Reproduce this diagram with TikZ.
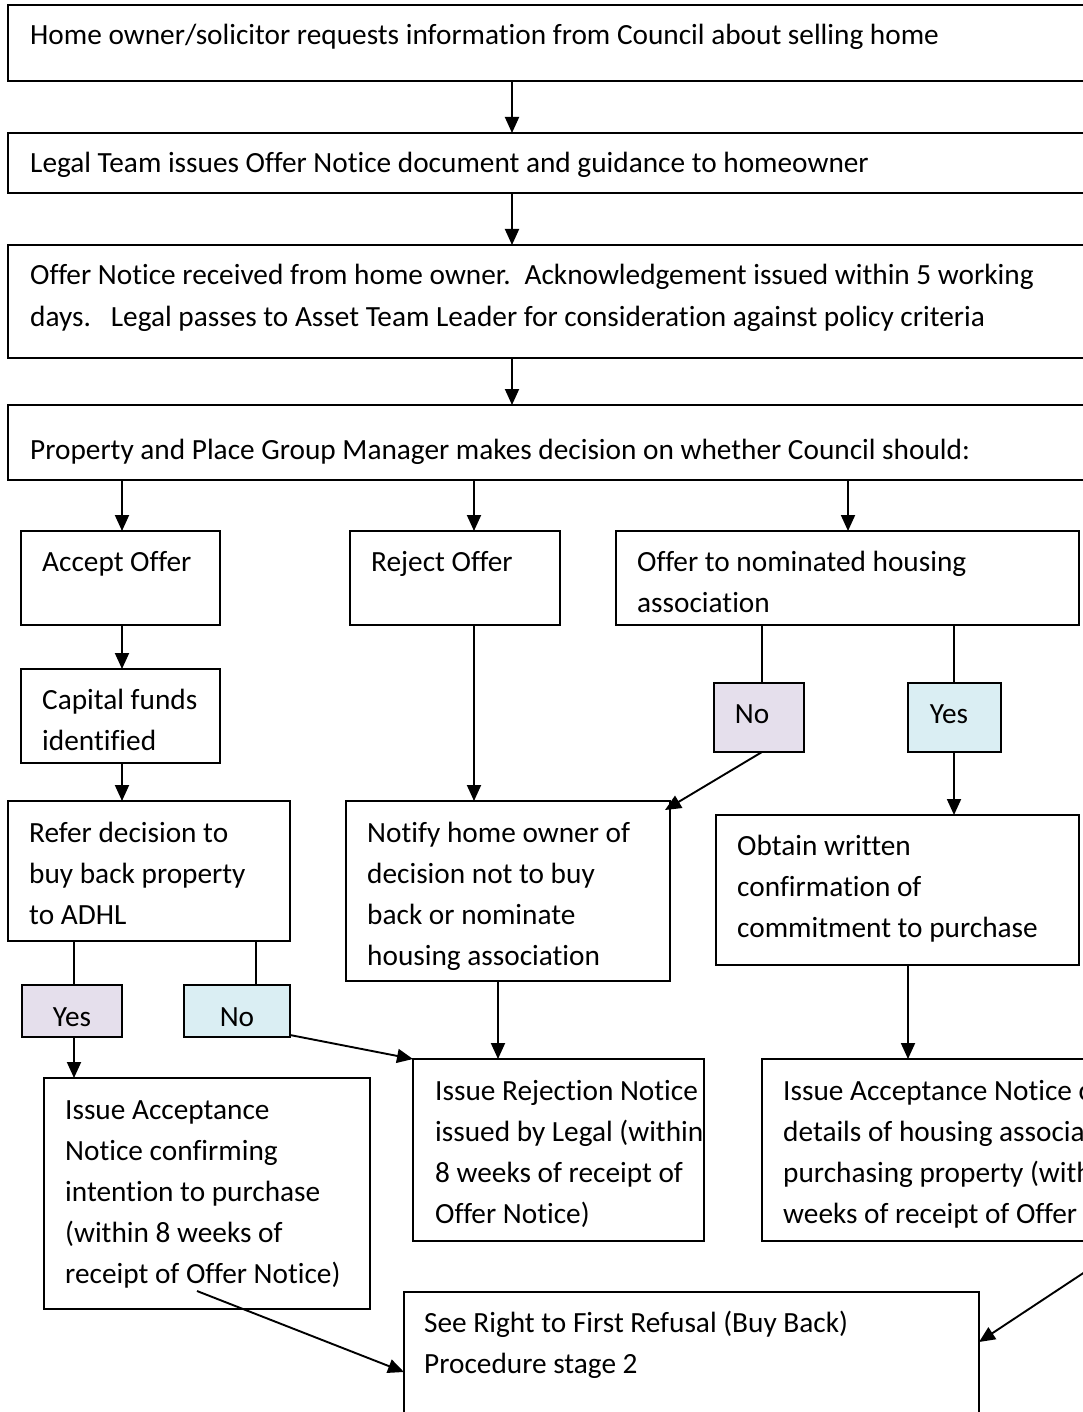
\documentclass[tikz,border=0pt]{standalone}
\usepackage{fontspec}
\setmainfont{Carlito}[Ligatures=CommonOff]
\usetikzlibrary{arrows.meta,calc}
\newcommand\bx[6][]{%
  \node[boxst,#1,minimum width={(#5-#3)*1pt},minimum height={(#6-#4)*1pt}] (#2) at ({(#3+#5)/2},{(#4+#6)/2}) {};}
\newcommand\Ln[1]{\hbox{#1}}
\newcommand\ML[1]{\vtop{\baselineskip=41pt #1}}
\begin{document}
\frenchspacing
\begin{tikzpicture}[x=1pt,y=-1pt,
  boxst/.style={draw,line width=1.5pt,inner sep=0pt,outer sep=0pt,fill=white},
  topbox/.style={line width=2.3pt},
  purp/.style={fill=purpfill},
  blu/.style={fill=blufill},
  txt/.style={anchor=base west,inner sep=0pt,font=\fontsize{29.3}{41}\selectfont},
  ctxt/.style={anchor=base,inner sep=0pt,font=\fontsize{29.3}{41}\selectfont},
  arr/.style={draw,line width=1.9pt,-{Triangle[length=16pt,width=14pt]}},
  ln/.style={draw,line width=1.6pt}]
\definecolor{purpfill}{HTML}{E5DFEC}
\definecolor{blufill}{HTML}{DAEEF3}
\useasboundingbox (0,0) rectangle (1083,1412);
\clip (0,0) rectangle (1083,1412);
\fill[white] (0,0) rectangle (1083,1412);
% boxes
\bx[topbox]{b1}{8}{5}{1110}{81}
\bx[topbox]{b2}{8}{133}{1110}{193}
\bx[topbox]{b3}{8}{245}{1110}{358}
\bx[topbox]{b4}{8}{405}{1110}{480}
\bx{acc}{21}{531}{220}{625}
\bx{rej}{350}{531}{560}{625}
\bx{off}{616}{531}{1079}{625}
\bx{cap}{21}{669}{220}{763}
\bx[purp]{noR}{714}{683}{804}{752}
\bx[blu]{yesR}{908}{683}{1001}{752}
\bx{ref}{8}{801}{290}{941}
\bx{notf}{346}{801}{670}{981}
\bx{obt}{716}{815}{1079}{965}
\bx[purp]{yesL}{22}{985}{122}{1037}
\bx[blu]{noL}{184}{985}{290}{1037}
\bx{ia}{44}{1078}{370}{1309}
\bx{rn}{413}{1059}{704}{1241}
\bx{ha}{762}{1059}{1110}{1241}
\bx{sr}{404}{1292}{979}{1440}
% texts
\node[txt] (t1) at (30,45) {Home owner/solicitor requests information from Council about selling home};
\node[txt] (t2) at (30,173) {Legal Team issues Offer Notice document and guidance to homeowner};
\node[txt] (t3) at (30,285) {\ML{\Ln{Offer Notice received from home owner.\hspace{14pt}Acknowledgement issued within 5 working}\Ln{days.\hspace{20pt}Legal passes to Asset Team Leader for consideration against policy criteria}}};
\node[txt] (t4) at (30,459) {Property and Place Group Manager makes decision on whether Council should:};
\node[txt] (tacc) at (42,571) {Accept Offer};
\node[txt] (trej) at (371,571) {Reject Offer};
\node[txt] (toff) at (637,571) {\ML{\Ln{Offer to nominated housing}\Ln{association}}};
\node[txt] (tcap) at (42,709) {\ML{\Ln{Capital funds}\Ln{identified}}};
\node[ctxt] (tnoR) at (752,723) {No};
\node[ctxt] (tyesR) at (949,723) {Yes};
\node[txt] (tref) at (29,842) {\ML{\Ln{Refer decision to}\Ln{buy back property}\Ln{to ADHL}}};
\node[txt] (tnot) at (367,842) {\ML{\Ln{Notify home owner of}\Ln{decision not to buy}\Ln{back or nominate}\Ln{housing association}}};
\node[txt] (tobt) at (737,855) {\ML{\Ln{Obtain written}\Ln{confirmation of}\Ln{commitment to purchase}}};
\node[ctxt] (tyesL) at (72,1026) {Yes};
\node[ctxt] (tnoL) at (237,1026) {No};
\node[txt] (tia) at (65,1119) {\ML{\Ln{Issue Acceptance}\Ln{Notice confirming}\Ln{intention to purchase}\Ln{(within 8 weeks of}\Ln{receipt of Offer Notice)}}};
\node[txt] (trn) at (435,1100) {\ML{\Ln{Issue Rejection Notice}\Ln{issued by Legal (within}\Ln{8 weeks of receipt of}\Ln{Offer Notice)}}};
\node[txt] (tha) at (783,1100) {\ML{\Ln{Issue Acceptance Notice confirming}\Ln{details of housing association}\Ln{purchasing property (within 8}\Ln{weeks of receipt of Offer Notice)}}};
\node[txt] (tsr) at (424,1332) {\ML{\Ln{See Right to First Refusal (Buy Back)}\Ln{Procedure stage 2}}};
% column coordinates
\coordinate (cA) at (512,0);
\coordinate (cB) at (122,0);
\coordinate (cC) at (474,0);
\coordinate (cD) at (848,0);
\coordinate (cE) at (762,0);
\coordinate (cF) at (954,0);
\coordinate (cG) at (74,0);
\coordinate (cH) at (256,0);
\coordinate (cI) at (498,0);
\coordinate (cJ) at (908,0);
\coordinate (offR) at (1100,1262);
% connectors
\draw[arr] (b1.south -| cA) -- (b2.north -| cA);
\draw[arr] (b2.south -| cA) -- (b3.north -| cA);
\draw[arr] (b3.south -| cA) -- (b4.north -| cA);
\draw[arr] (b4.south -| cB) -- (acc.north -| cB);
\draw[arr] (b4.south -| cC) -- (rej.north -| cC);
\draw[arr] (b4.south -| cD) -- (off.north -| cD);
\draw[arr] (acc.south -| cB) -- (cap.north -| cB);
\draw[arr] (cap.south -| cB) -- (ref.north -| cB);
\draw[arr] (rej.south -| cC) -- (notf.north -| cC);
\draw[ln] (off.south -| cE) -- (noR.north -| cE);
\draw[ln] (off.south -| cF) -- (yesR.north -| cF);
\draw[arr] (noR.south -| cE) -- ($(notf.north east)+(-5,9)$);
\draw[arr] (yesR.south -| cF) -- (obt.north -| cF);
\draw[ln] (ref.south -| cG) -- (yesL.north -| cG);
\draw[ln] (ref.south -| cH) -- (noL.north -| cH);
\draw[arr] (yesL.south -| cG) -- (ia.north -| cG);
\draw[arr] ($(noL.south east)+(0,-2)$) -- (rn.north west);
\draw[arr] (notf.south -| cI) -- (rn.north -| cI);
\draw[arr] (obt.south -| cJ) -- (ha.north -| cJ);
\draw[arr] ($(ia.south west)+(153,-18)$) -- ($(sr.north west)+(0,80)$);
\draw[arr] (offR) -- ($(sr.north east)+(0,50)$);
\end{tikzpicture}
\end{document}
